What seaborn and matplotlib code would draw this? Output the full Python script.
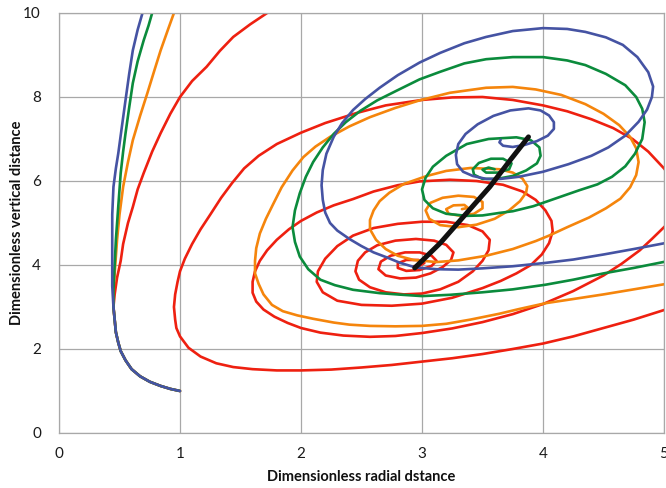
import numpy as np
import pandas as pd
import matplotlib
matplotlib.use("Agg")
import matplotlib.pyplot as plt
import seaborn as sns

# ---------------- data ----------------
red_branch_x = [1.0, 0.92, 0.84, 0.75, 0.67, 0.60, 0.55, 0.51, 0.49, 0.47, 0.46, 0.45, 0.46, 0.48, 0.51, 0.53, 0.57, 0.61, 0.65, 0.70, 0.77, 0.84, 0.92, 1.0, 1.10, 1.22, 1.33, 1.44, 1.58, 1.72, 1.78]
red_branch_y = [1.0, 1.05, 1.12, 1.22, 1.35, 1.52, 1.73, 1.95, 2.15, 2.4, 2.7, 3.0, 3.3, 3.7, 4.1, 4.5, 5.0, 5.38, 5.8, 6.19, 6.7, 7.14, 7.6, 8.0, 8.38, 8.72, 9.1, 9.43, 9.73, 10.0, 10.1]
orange_branch_x = [1.0, 0.92, 0.84, 0.75, 0.67, 0.60, 0.55, 0.51, 0.49, 0.47, 0.46, 0.45, 0.45, 0.46, 0.47, 0.48, 0.50, 0.53, 0.57, 0.61, 0.67, 0.73, 0.79, 0.84, 0.90, 0.95, 0.96]
orange_branch_y = [1.0, 1.05, 1.12, 1.22, 1.35, 1.52, 1.73, 1.95, 2.15, 2.4, 2.7, 3.0, 3.4, 3.8, 4.2, 4.6, 5.2, 5.86, 6.45, 6.97, 7.55, 8.09, 8.65, 9.11, 9.6, 10.0, 10.1]
green_branch_x = [1.0, 0.92, 0.84, 0.75, 0.67, 0.60, 0.55, 0.51, 0.49, 0.47, 0.46, 0.45, 0.45, 0.46, 0.47, 0.49, 0.51, 0.53, 0.55, 0.58, 0.61, 0.65, 0.70, 0.74, 0.77, 0.78]
green_branch_y = [1.0, 1.05, 1.12, 1.22, 1.35, 1.52, 1.73, 1.95, 2.15, 2.4, 2.7, 3.0, 3.4, 4.0, 4.6, 5.4, 6.19, 6.7, 7.14, 7.75, 8.33, 8.85, 9.35, 9.7, 10.0, 10.1]
blue_branch_x = [1.0, 0.92, 0.84, 0.75, 0.67, 0.60, 0.55, 0.51, 0.49, 0.47, 0.46, 0.45, 0.44, 0.44, 0.44, 0.44, 0.45, 0.47, 0.49, 0.52, 0.55, 0.58, 0.61, 0.65, 0.69, 0.70]
blue_branch_y = [1.0, 1.05, 1.12, 1.22, 1.35, 1.52, 1.73, 1.95, 2.15, 2.4, 2.7, 3.0, 3.5, 4.0, 4.5, 5.2, 5.86, 6.3, 6.66, 7.3, 7.93, 8.55, 9.11, 9.6, 10.0, 10.1]

red_outer_x = [5.08, 4.75, 4.5, 4.25, 4.0, 3.75, 3.5, 3.25, 3.0, 2.75, 2.5, 2.25, 2.0, 1.8, 1.6, 1.44, 1.3, 1.17, 1.07, 1.0, 0.97, 0.96, 0.95, 0.96, 0.98, 1.0, 1.04, 1.1, 1.17, 1.25, 1.34, 1.43, 1.53, 1.65, 1.8, 2.0, 2.2, 2.46, 2.7, 3.0, 3.25, 3.5, 3.75, 4.0, 4.2, 4.4, 4.58, 4.74, 4.87, 5.0, 5.08]
red_outer_y = [3.0, 2.7, 2.5, 2.3, 2.13, 2.0, 1.88, 1.78, 1.70, 1.62, 1.56, 1.51, 1.49, 1.49, 1.52, 1.57, 1.66, 1.82, 2.03, 2.3, 2.5, 2.7, 3.0, 3.3, 3.6, 3.85, 4.15, 4.5, 4.85, 5.2, 5.6, 5.95, 6.3, 6.6, 6.88, 7.15, 7.38, 7.62, 7.8, 7.93, 7.99, 8.0, 7.93, 7.8, 7.66, 7.47, 7.26, 7.0, 6.7, 6.3, 6.0]
red_inner_x = [5.08, 5.0, 4.9, 4.8, 4.65, 4.5, 4.25, 4.0, 3.75, 3.5, 3.25, 3.0, 2.78, 2.57, 2.35, 2.16, 2.0, 1.89, 1.78, 1.69, 1.63, 1.60, 1.60, 1.62, 1.66, 1.72, 1.8, 1.9, 2.0, 2.13, 2.27, 2.43, 2.6, 2.8, 2.98, 3.23, 3.45, 3.67, 3.83, 3.94, 4.02, 4.07, 4.08, 4.05, 3.99, 3.9, 3.78, 3.65, 3.5, 3.25, 3.0, 2.75, 2.5, 2.3, 2.18, 2.13, 2.14, 2.2, 2.3, 2.43, 2.6, 2.8, 3.0, 3.2, 3.38, 3.5, 3.56, 3.55, 3.5, 3.42, 3.3, 3.15, 3.0, 2.85, 2.7, 2.57, 2.48, 2.45, 2.47, 2.53, 2.63, 2.78, 2.95, 3.1, 3.2, 3.26, 3.24, 3.17, 3.07, 2.95, 2.82, 2.7, 2.64, 2.66, 2.74, 2.86, 2.98, 3.08, 3.12, 3.08, 2.98, 2.87, 2.8, 2.8, 2.87, 2.97, 3.02, 2.98, 2.93]
red_inner_y = [5.12, 4.9, 4.62, 4.35, 4.03, 3.75, 3.38, 3.07, 2.83, 2.64, 2.49, 2.38, 2.31, 2.29, 2.32, 2.39, 2.5, 2.62, 2.77, 2.94, 3.13, 3.34, 3.6, 3.85, 4.1, 4.35, 4.6, 4.85, 5.05, 5.25, 5.42, 5.57, 5.75, 5.9, 5.99, 6.03, 6.0, 5.91, 5.75, 5.55, 5.3, 5.05, 4.8, 4.52, 4.25, 4.0, 3.8, 3.62, 3.45, 3.22, 3.08, 3.03, 3.05, 3.15, 3.35, 3.6, 3.85, 4.15, 4.45, 4.7, 4.88, 4.98, 5.03, 5.03, 4.95, 4.8, 4.6, 4.35, 4.1, 3.85, 3.6, 3.42, 3.32, 3.3, 3.35, 3.47, 3.65, 3.85, 4.1, 4.3, 4.47, 4.58, 4.62, 4.58, 4.48, 4.3, 4.12, 3.95, 3.8, 3.7, 3.68, 3.75, 3.9, 4.08, 4.22, 4.3, 4.3, 4.22, 4.1, 3.98, 3.88, 3.86, 3.93, 4.04, 4.12, 4.12, 4.05, 3.98, 3.97]

orange_spiral_x = [5.08, 4.75, 4.5, 4.25, 4.02, 3.8, 3.64, 3.4, 3.2, 3.0, 2.78, 2.57, 2.4, 2.27, 2.1, 1.97, 1.85, 1.76, 1.69, 1.65, 1.62, 1.62, 1.63, 1.66, 1.71, 1.77, 1.84, 1.93, 2.02, 2.12, 2.24, 2.4, 2.57, 2.78, 2.98, 3.23, 3.53, 3.75, 3.94, 4.15, 4.35, 4.5, 4.63, 4.72, 4.77, 4.79, 4.77, 4.72, 4.64, 4.52, 4.38, 4.2, 4.05, 3.94, 3.75, 3.53, 3.3, 3.12, 2.93, 2.8, 2.7, 2.62, 2.57, 2.57, 2.6, 2.65, 2.73, 2.85, 3.04, 3.2, 3.4, 3.64, 3.75, 3.83, 3.87, 3.86, 3.81, 3.72, 3.6, 3.45, 3.3, 3.15, 3.06, 3.03, 3.07, 3.17, 3.3, 3.43, 3.5, 3.5, 3.43, 3.32, 3.22, 3.2, 3.26, 3.35, 3.38, 3.33]
orange_spiral_y = [3.58, 3.42, 3.3, 3.19, 3.09, 2.95, 2.84, 2.7, 2.6, 2.55, 2.54, 2.55, 2.58, 2.63, 2.72, 2.8, 2.9, 3.05, 3.3, 3.55, 3.8, 4.1, 4.4, 4.75, 5.1, 5.45, 5.85, 6.25, 6.57, 6.82, 7.05, 7.3, 7.52, 7.74, 7.92, 8.1, 8.22, 8.24, 8.18, 8.05, 7.83, 7.6, 7.33, 7.05, 6.78, 6.45, 6.14, 5.85, 5.58, 5.35, 5.13, 4.9, 4.7, 4.57, 4.38, 4.22, 4.11, 4.07, 4.12, 4.22, 4.38, 4.6, 4.85, 5.07, 5.3, 5.52, 5.72, 5.93, 6.12, 6.24, 6.31, 6.28, 6.2, 6.06, 5.88, 5.72, 5.52, 5.3, 5.1, 4.96, 4.9, 4.95, 5.1, 5.3, 5.48, 5.6, 5.65, 5.62, 5.5, 5.35, 5.22, 5.17, 5.22, 5.33, 5.42, 5.43, 5.36, 5.33]

green_spiral_x = [5.08, 4.75, 4.5, 4.25, 4.02, 3.75, 3.5, 3.23, 3.0, 2.84, 2.65, 2.43, 2.28, 2.16, 2.06, 1.99, 1.95, 1.93, 1.95, 1.99, 2.04, 2.1, 2.18, 2.27, 2.37, 2.49, 2.63, 2.79, 2.98, 3.15, 3.35, 3.53, 3.75, 4.0, 4.2, 4.35, 4.52, 4.68, 4.77, 4.82, 4.84, 4.82, 4.76, 4.68, 4.57, 4.45, 4.3, 4.14, 3.92, 3.75, 3.64, 3.5, 3.37, 3.2, 3.09, 3.02, 3.0, 3.03, 3.09, 3.2, 3.37, 3.55, 3.78, 3.9, 3.97, 3.98, 3.95, 3.86, 3.75, 3.62, 3.5, 3.43, 3.42, 3.47, 3.57, 3.67, 3.74, 3.72, 3.63, 3.53, 3.5, 3.55, 3.6]
green_spiral_y = [4.12, 3.93, 3.8, 3.65, 3.53, 3.42, 3.35, 3.29, 3.26, 3.29, 3.33, 3.41, 3.52, 3.65, 3.9, 4.2, 4.55, 4.9, 5.3, 5.71, 6.1, 6.45, 6.8, 7.12, 7.4, 7.67, 7.92, 8.15, 8.42, 8.6, 8.8, 8.9, 8.95, 8.95, 8.87, 8.76, 8.55, 8.28, 8.0, 7.72, 7.4, 7.0, 6.65, 6.35, 6.1, 5.92, 5.78, 5.62, 5.4, 5.28, 5.24, 5.18, 5.17, 5.22, 5.35, 5.55, 5.8, 6.08, 6.34, 6.6, 6.88, 7.0, 7.04, 6.97, 6.8, 6.6, 6.42, 6.25, 6.12, 6.05, 6.05, 6.15, 6.28, 6.43, 6.53, 6.53, 6.42, 6.28, 6.2, 6.2, 6.27, 6.32, 6.28]

blue_spiral_x = [5.08, 4.75, 4.5, 4.25, 4.02, 3.75, 3.5, 3.3, 3.12, 2.95, 2.82, 2.71, 2.6, 2.5, 2.4, 2.3, 2.24, 2.2, 2.18, 2.17, 2.18, 2.21, 2.27, 2.34, 2.43, 2.53, 2.65, 2.8, 2.98, 3.15, 3.35, 3.53, 3.75, 4.0, 4.2, 4.35, 4.52, 4.66, 4.78, 4.87, 4.91, 4.9, 4.86, 4.79, 4.68, 4.54, 4.4, 4.21, 4.0, 3.8, 3.65, 3.53, 3.42, 3.34, 3.29, 3.28, 3.3, 3.36, 3.46, 3.59, 3.73, 3.88, 3.98, 4.05, 4.09, 4.09, 4.04, 3.95, 3.85, 3.75, 3.67, 3.64, 3.65]
blue_spiral_y = [4.56, 4.38, 4.25, 4.13, 4.05, 3.97, 3.92, 3.89, 3.9, 3.94, 4.05, 4.18, 4.3, 4.45, 4.62, 4.82, 5.0, 5.25, 5.55, 5.9, 6.26, 6.65, 7.05, 7.38, 7.69, 7.95, 8.22, 8.52, 8.82, 9.05, 9.28, 9.43, 9.57, 9.64, 9.62, 9.55, 9.42, 9.24, 8.95, 8.59, 8.25, 8.0, 7.7, 7.41, 7.08, 6.8, 6.6, 6.4, 6.22, 6.1, 6.05, 6.05, 6.12, 6.22, 6.4, 6.62, 6.88, 7.12, 7.35, 7.55, 7.68, 7.73, 7.68, 7.56, 7.4, 7.24, 7.08, 6.95, 6.86, 6.81, 6.84, 6.92, 6.98]

black_x = [2.94, 3.15, 3.37, 3.56, 3.73, 3.88]
black_y = [3.93, 4.52, 5.24, 5.86, 6.5, 7.05]

x_ticks = [0, 1, 2, 3, 4, 5]
y_ticks = [0, 2, 4, 6, 8, 10]

# ---------------- build table ----------------
segments = [
    ("red", red_branch_x, red_branch_y),
    ("red", red_outer_x, red_outer_y),
    ("red", red_inner_x, red_inner_y),
    ("orange", orange_branch_x, orange_branch_y),
    ("orange", orange_spiral_x, orange_spiral_y),
    ("green", green_branch_x, green_branch_y),
    ("green", green_spiral_x, green_spiral_y),
    ("blue", blue_branch_x, blue_branch_y),
    ("blue", blue_spiral_x, blue_spiral_y),
]
rows = []
for i, (name, xs, ys) in enumerate(segments):
    for j, (x, y) in enumerate(zip(xs, ys)):
        rows.append((name, i, j, x, y))
df = pd.DataFrame(rows, columns=["series", "seg", "order", "x", "y"])
df_black = pd.DataFrame({"x": black_x, "y": black_y, "seg": 0})

palette = {"red": "#EE2010", "orange": "#F5850C", "green": "#0B8B3C", "blue": "#4553A3"}

sns.set_theme(style="white")
plt.rcParams["font.family"] = ["Lato", "DejaVu Sans"]

fig = plt.figure(figsize=(6.66, 4.88), dpi=100)
ax = fig.add_axes([59 / 666, 1 - 433 / 488, (664 - 59) / 666, (433 - 13) / 488])

sns.lineplot(data=df, x="x", y="y", hue="series", units="seg", estimator=None,
             sort=False, palette=palette, hue_order=["red", "orange", "green", "blue"],
             linewidth=1.9, legend=False, ax=ax)
sns.lineplot(data=df_black, x="x", y="y", units="seg", estimator=None, sort=False,
             color="#111111", linewidth=3.6, legend=False, ax=ax, zorder=5)

ax.set_xlim(0, 5)
ax.set_ylim(0, 10)
ax.set_xticks(x_ticks)
ax.set_yticks(y_ticks)
ax.grid(True, color="#A8A8A8", linewidth=0.9)
ax.set_axisbelow(True)
for s in ax.spines.values():
    s.set_color("#A8A8A8")
    s.set_linewidth(0.9)
ax.tick_params(axis="both", which="major", direction="out", length=4, width=0.9,
               color="#A8A8A8", labelsize=11, labelcolor="#1a1a1a", pad=6)
ax.tick_params(axis="y", pad=9)
ax.set_xlabel("Dimensionless radial dstance", fontsize=10.5, fontweight="bold", color="#111111")
ax.set_ylabel("Dimensionless vertical distance", fontsize=10.5, fontweight="bold", color="#111111")
ax.xaxis.set_label_coords(0.5, -(470 - 433) / 420)
ax.yaxis.set_label_coords(-(59 - 24) / 605, 0.5)

fig.savefig("out.png", dpi=100)
